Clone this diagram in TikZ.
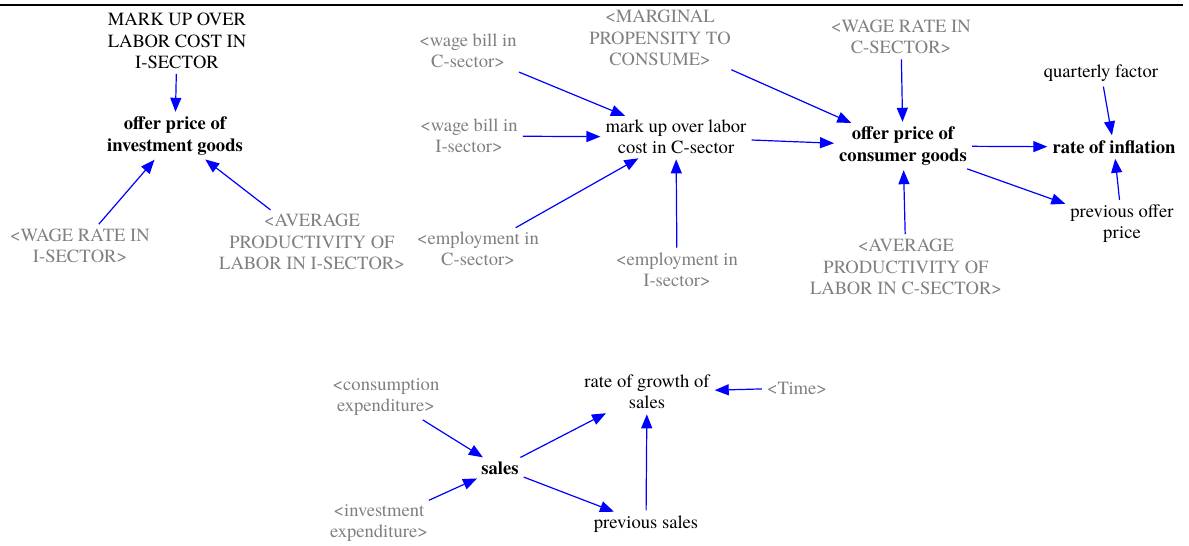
\documentclass[tikz,border=0pt]{standalone}
\usepackage{fontspec}
\setmainfont{texgyretermes}[Extension=.otf, UprightFont=*-regular, BoldFont=*-bold, ItalicFont=*-italic, BoldItalicFont=*-bolditalic]
\usetikzlibrary{arrows.meta}
\definecolor{lnkblue}{RGB}{0,0,255}
\definecolor{shadowgray}{RGB}{128,128,128}
\tikzset{
  var/.style={align=center, inner sep=3bp, text=black, font=\fontsize{18.6bp}{21.3bp}\selectfont},
  bvar/.style={var, font=\fontsize{18.6bp}{21.3bp}\selectfont\bfseries},
  shadow/.style={var, text=shadowgray},
  link/.style={draw=lnkblue, line width=1.2bp, -{Triangle[length=14bp,width=11bp]}, shorten >=2bp, shorten <=2bp},
  rule/.style={line width=2bp, black}
}
\begin{document}
\begin{tikzpicture}[x=1bp,y=-1bp]
\useasboundingbox (0,0) rectangle (1189,546);
\coordinate (ruleL) at (0,5);
\coordinate (ruleR) at (1183,5);
\draw[rule] (ruleL) -- (ruleR);

% investment-goods price
\node[var] (markupI) at (177,41) {MARK UP OVER\\LABOR COST IN\\I-SECTOR};
\node[bvar] (offerI) at (175,136) {offer price of\\investment goods};
\node[shadow] (wageI) at (80,246) {<WAGE RATE IN\\I-SECTOR>};
\node[shadow] (prodI) at (312,242) {<AVERAGE\\PRODUCTIVITY OF\\LABOR IN I-SECTOR>};

% consumer-goods price
\node[shadow] (wbC) at (468,51) {<wage bill in\\C-sector>};
\node[shadow] (wbI) at (469,136) {<wage bill in\\I-sector>};
\node[shadow] (empC) at (478,249) {<employment in\\C-sector>};
\node[shadow] (empI) at (677,270) {<employment in\\I-sector>};
\node[var] (markupC) at (676,137) {mark up over labor\\cost in C-sector};
\node[shadow] (mpc) at (660,38) {<MARGINAL\\PROPENSITY TO\\CONSUME>};
\node[shadow] (wageC) at (901,37) {<WAGE RATE IN\\C-SECTOR>};
\node[bvar] (offerC) at (903,146) {offer price of\\consumer goods};
\node[shadow] (prodC) at (906,267) {<AVERAGE\\PRODUCTIVITY OF\\LABOR IN C-SECTOR>};
\node[var] (qf) at (1101,73) {quarterly factor};
\node[bvar] (infl) at (1114,147) {rate of inflation};
\node[var] (prevP) at (1122,224) {previous offer\\price};

% sales
\node[shadow] (consE) at (386,397) {<consumption\\expenditure>};
\node[shadow] (invE) at (379,523) {<investment\\expenditure>};
\node[bvar] (sales) at (500,468) {sales};
\node[var] (growth) at (647,392) {rate of growth of\\sales};
\node[shadow] (time) at (797,388) {<Time>};
\node[var] (prevS) at (646,524) {previous sales};

\draw[link] (markupI) -- (offerI);
\draw[link] (wageI) -- (offerI);
\draw[link] (prodI) -- (offerI);

\draw[link] (wbC) -- (markupC);
\draw[link] (wbI) -- (markupC);
\draw[link] (empC) -- (markupC);
\draw[link] (empI) -- (markupC);
\draw[link] (markupC) -- (offerC);
\draw[link] (mpc) -- (offerC);
\draw[link] (wageC) -- (offerC);
\draw[link] (prodC) -- (offerC);
\draw[link] (offerC) -- (infl);
\draw[link] (offerC) -- (prevP);
\draw[link] (qf) -- (infl);
\draw[link] (prevP) -- (infl);

\draw[link] (consE) -- (sales);
\draw[link] (invE) -- (sales);
\draw[link] (sales) -- (growth);
\draw[link] (sales) -- (prevS);
\draw[link] (prevS) -- (growth);
\draw[link] (time) -- (growth);
\end{tikzpicture}
\end{document}
